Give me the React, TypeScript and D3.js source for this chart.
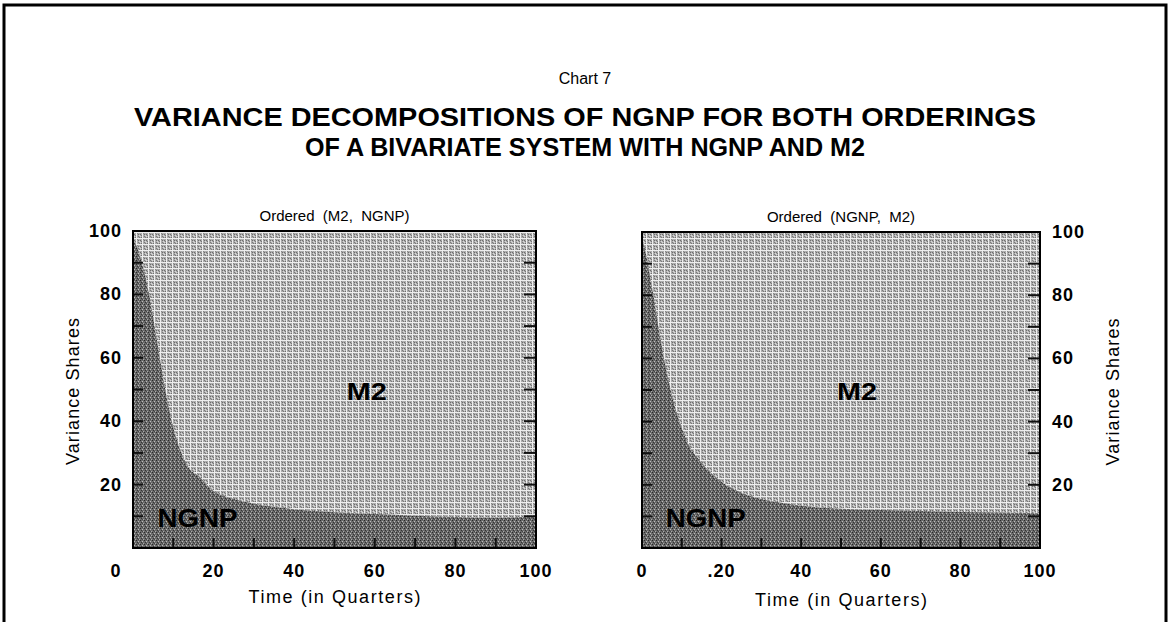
import React from "react";
import * as d3 from "d3";

const quarters = [0, 1, 2, 3, 4, 6, 8, 10, 12, 14, 16, 20, 25, 30, 35, 40, 50, 60, 70, 80, 90, 100];
const ngnpShareM2First = [97, 95, 91, 86, 80, 65, 50, 38, 30, 25, 23, 18, 15.5, 14, 13, 12.2, 11.3, 10.7, 10.2, 9.8, 9.6, 10];
const ngnpShareNgnpFirst = [98, 93, 86, 79, 71, 57, 46, 38, 32, 28.5, 25.5, 21, 17.5, 15.5, 14.3, 13.4, 12.4, 12, 11.7, 11.4, 11.2, 11];
const xTickLabelsLeft = ["0", "20", "40", "60", "80", "100"];
const xTickLabelsRight = ["0", ".20", "40", "60", "80", "100"];
const yTickLabels = ["20", "40", "60", "80", "100"];
const minorTicks = [10, 20, 30, 40, 50, 60, 70, 80, 90];

const FONT = "'Liberation Sans', Arial, Helvetica, sans-serif";

type PanelProps = {
  x0: number; x1: number; y0: number; y1: number;
  data: number[]; subtitle: string; xLabels: string[];
  side: "left" | "right"; zeroDx: number; timeY: number; m2At: number; ngnpAt: number;
};

function Panel({ x0, x1, y0, y1, data, subtitle, xLabels, side, zeroDx, timeY, m2At, ngnpAt }: PanelProps) {
  const x = d3.scaleLinear().domain([0, 100]).range([x0, x1]);
  const y = d3.scaleLinear().domain([0, 100]).range([y1, y0]);
  const pts = quarters.map((q, i) => ({ q, v: data[i] }));
  const ngnpArea = d3.area<{ q: number; v: number }>()
    .x(d => x(d.q)).y0(y(0)).y1(d => y(d.v)).curve(d3.curveMonotoneX)(pts) || "";
  const m2Area = d3.area<{ q: number; v: number }>()
    .x(d => x(d.q)).y0(y(100)).y1(d => y(d.v)).curve(d3.curveMonotoneX)(pts) || "";
  const cx = (x0 + x1) / 2;
  const labelX = side === "left" ? x0 - 11 : x1 + 12;
  const anchor = side === "left" ? "end" : "start";
  const titleX = side === "left" ? x0 - 60 : x1 + 73;
  return (
    <g>
      <text x={cx} y={y0 - 10} textAnchor="middle" fontFamily={FONT} fontSize={15}
        style={{ whiteSpace: "pre" }}>{subtitle}</text>
      <path d={m2Area} fill="url(#lightTex)" />
      <path d={ngnpArea} fill="url(#darkTex)" />
      {minorTicks.map(t => (
        <g key={"y" + t}>
          <line x1={x0} x2={x0 + 10} y1={y(t)} y2={y(t)} stroke="#111" strokeWidth={2} />
          <line x1={x1 - 12} x2={x1} y1={y(t)} y2={y(t)} stroke="#111" strokeWidth={2} />
        </g>
      ))}
      {minorTicks.map(t => (
        <line key={"x" + t} x1={x(t)} x2={x(t)} y1={y1} y2={y1 - 10} stroke="#111" strokeWidth={2} />
      ))}
      <rect x={x0} y={y0} width={x1 - x0} height={y1 - y0} fill="none" stroke="#000" strokeWidth={2} />
      {xLabels.map((l, i) => (
        <text key={l} x={x(i * 20) + (i === 0 ? zeroDx : 0)} y={y1 + 29} textAnchor="middle"
          fontFamily={FONT} fontWeight="bold" fontSize={18} letterSpacing={1}>{l}</text>
      ))}
      {yTickLabels.map((l, i) => (
        <text key={l} x={labelX} y={y((i + 1) * 20) + 6} textAnchor={anchor}
          fontFamily={FONT} fontWeight="bold" fontSize={18} letterSpacing={1}>{l}</text>
      ))}
      <text transform={`translate(${titleX},${(y0 + y1) / 2 + 2}) rotate(-90)`} textAnchor="middle"
        fontFamily={FONT} fontSize={18} dy="0.35em" textLength={147} lengthAdjust="spacing">Variance Shares</text>
      <text x={cx} y={timeY} textAnchor="middle" fontFamily={FONT} fontSize={18}
        textLength={172} lengthAdjust="spacing">Time (in Quarters)</text>
      <text x={x(m2At)} y={y(50) + 10} textAnchor="middle" fontFamily={FONT} fontWeight="bold" fontSize={24}
        textLength={40} lengthAdjust="spacingAndGlyphs">M2</text>
      <text x={x(ngnpAt)} y={y(6.5)} textAnchor="middle" fontFamily={FONT} fontWeight="bold" fontSize={25}
        textLength={80} lengthAdjust="spacingAndGlyphs">NGNP</text>
    </g>
  );
}

export default function App() {
  return (
    <svg width={1170} height={622} style={{ position: "absolute", left: 0, top: 0, background: "#fff" }}>
      <defs>
        <pattern id="lightTex" patternUnits="userSpaceOnUse" width={6} height={6}>
          <rect width={6} height={6} fill="#adadad" />
          <rect x={0} y={0} width={1} height={1} fill="#6e6e6e" />
          <rect x={2} y={0} width={1} height={1} fill="#6e6e6e" />
          <rect x={1} y={1} width={1} height={1} fill="#d8d8d8" />
          <rect x={3} y={1} width={1} height={1} fill="#7a7a7a" />
          <rect x={0} y={2} width={1} height={1} fill="#7a7a7a" />
          <rect x={2} y={2} width={1} height={1} fill="#d8d8d8" />
          <rect x={1} y={3} width={1} height={1} fill="#7a7a7a" />
          <rect x={3} y={3} width={1} height={1} fill="#6e6e6e" />
          <rect x={4} y={0} width={1} height={6} fill="#eeeeee" />
          <rect x={0} y={4} width={6} height={1} fill="#eeeeee" />
          <rect x={5} y={5} width={1} height={1} fill="#888" />
        </pattern>
        <pattern id="darkTex" patternUnits="userSpaceOnUse" width={4} height={4}>
          <rect width={4} height={4} fill="#6a6a6a" />
          <rect x={0} y={0} width={1} height={1} fill="#2a2a2a" />
          <rect x={2} y={1} width={1} height={1} fill="#bdbdbd" />
          <rect x={1} y={2} width={1} height={1} fill="#333" />
          <rect x={3} y={3} width={1} height={1} fill="#aaa" />
          <rect x={2} y={3} width={1} height={1} fill="#444" />
        </pattern>
      </defs>
      <path d="M4,622 V5 H1166 V622" fill="none" stroke="#000" strokeWidth={3} />
      <text x={585} y={84} textAnchor="middle" fontFamily={FONT} fontSize={16}>Chart 7</text>
      <text x={585} y={126} textAnchor="middle" fontFamily={FONT} fontWeight="bold" fontSize={26}
        textLength={902} lengthAdjust="spacingAndGlyphs">VARIANCE DECOMPOSITIONS OF NGNP FOR BOTH ORDERINGS</text>
      <text x={585} y={156} textAnchor="middle" fontFamily={FONT} fontWeight="bold" fontSize={26}
        textLength={560} lengthAdjust="spacingAndGlyphs">OF A BIVARIATE SYSTEM WITH NGNP AND M2</text>
      <Panel x0={133} x1={536} y0={231} y1={548} data={ngnpShareM2First} subtitle="Ordered  (M2,  NGNP)"
        xLabels={xTickLabelsLeft} side="left" zeroDx={-17} timeY={603} m2At={58} ngnpAt={16} />
      <Panel x0={642} x1={1040} y0={232} y1={548} data={ngnpShareNgnpFirst} subtitle="Ordered  (NGNP,  M2)"
        xLabels={xTickLabelsRight} side="right" zeroDx={0} timeY={606} m2At={54} ngnpAt={16} />
    </svg>
  );
}
